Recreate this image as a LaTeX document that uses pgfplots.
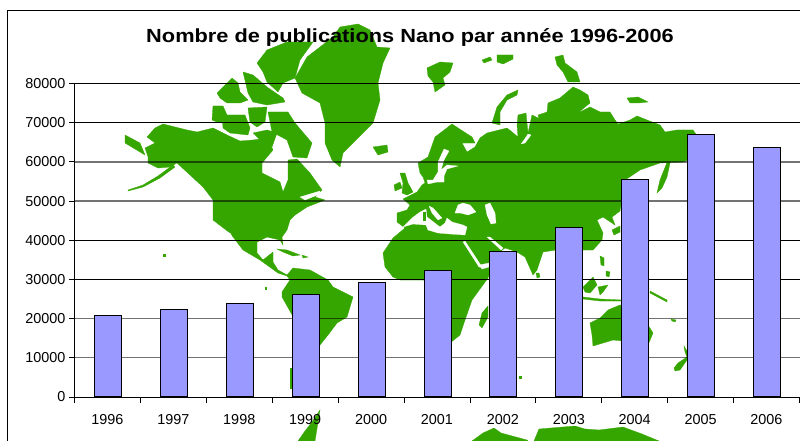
\documentclass[border=0pt]{standalone}
\usepackage{fontspec}
\setmainfont{Liberation Sans}
\usepackage{pgfplots}
\pgfplotsset{compat=1.18}
\definecolor{land}{HTML}{35A600}
\definecolor{barfill}{HTML}{9999FF}
\pgfplotsset{
  land/.style={fill=land,draw=land,line width=0.3pt,no markers},
  sea/.style={fill=white,draw=white,line width=0.2pt,no markers}
}
\pgfplotstableread{
year count
1996 20800
1997 22300
1998 23860
1999 26150
2000 29200
2001 32200
2002 37250
2003 43300
2004 55500
2005 67000
2006 63650
}\pubs
\begin{document}
\begin{tikzpicture}[x=1pt,y=1pt]
\useasboundingbox (0,0) rectangle (800pt,441pt);
\clip (0,0) rectangle (800pt,441pt);
% background map, in picture pixels
\begin{axis}[at={(0pt,0pt)},anchor=south west,scale only axis,width=800pt,height=441pt,
  xmin=0,xmax=800,ymin=0,ymax=441,y dir=reverse,hide axis]
% Americas
\addplot[land] coordinates {(147,137)(155,128)(163,124)(175,127)(187,130)(197,132)(213,128)(227,135)(240,141)(253,140)(267,138)(273,150)(262,163)(262,173)(272,178)(280,182)(283,192)(288,180)(288,160)(297,159)(310,173)(322,190)(315,197)(325,200)(307,207)(295,215)(290,220)(287,230)(282,237)(283,245)(280,240)(267,237)(257,242)(257,253)(263,260)(273,252)(273,262)(278,270)(287,275)(293,268)(310,270)(328,280)(333,287)(353,297)(347,317)(337,323)(328,335)(320,345)(318,348)(305,345)(295,320)(282,297)(282,292)(290,280)(287,276)(278,273)(260,260)(243,250)(230,233)(213,220)(213,200)(203,187)(190,175)(177,163)(170,167)(158,168)(148,163)(148,157)(145,148)(155,143)} --cycle;
\addplot[sea] coordinates {(228,233)(230,233)(238,248)(235,249)} --cycle;
\addplot[sea] coordinates {(300,197)(320,191)(320,194)(305,200)} --cycle;
\addplot[land] coordinates {(290,368)(292,368)(292,388)(290,388)} --cycle;
\addplot[land] coordinates {(125,135)(140,143)(145,155)(125,143)} --cycle;
\addplot[land] coordinates {(173,165)(175,167)(160,178)(143,187)(128,191)(128,190)(143,185)(158,176)} --cycle;
\addplot[land] coordinates {(277,249)(287,250)(300,255)(293,256)(283,252)} --cycle;
\addplot[land] coordinates {(302,255)(308,257)(303,258)} --cycle;
\addplot[land] coordinates {(163,254)(165,254)(165,256)(163,256)} --cycle;
\addplot[land] coordinates {(265,287)(266,287)(266,289)(265,289)} --cycle;
% Arctic Canada
\addplot[land] coordinates {(212,120)(213,106)(223,106)(227,115)(222,123)(217,122)} --cycle;
\addplot[land] coordinates {(222,115)(245,115)(250,128)(248,135)(230,133)(223,128)} --cycle;
\addplot[land] coordinates {(268,112)(288,112)(295,123)(312,143)(307,158)(293,157)(287,140)(272,132)} --cycle;
\addplot[land] coordinates {(248,108)(267,107)(265,122)(257,127)(250,122)} --cycle;
\addplot[land] coordinates {(253,133)(267,130)(277,133)(272,147)(260,140)} --cycle;
\addplot[land] coordinates {(217,93)(232,78)(238,83)(240,92)(248,100)(240,103)(227,103)(220,98)} --cycle;
\addplot[land] coordinates {(243,72)(253,75)(267,87)(283,98)(285,102)(267,105)(253,102)(248,93)} --cycle;
\addplot[land] coordinates {(257,63)(267,50)(287,42)(313,42)(300,60)(295,78)(283,83)(278,92)(267,82)(263,72)} --cycle;
% Greenland, Iceland
\addplot[land] coordinates {(295,78)(307,57)(333,37)(340,27)(358,24)(370,30)(377,47)(390,48)(383,63)(378,83)(380,100)(373,123)(363,133)(343,153)(340,167)(332,160)(325,143)(325,123)(320,103)(302,93)} --cycle;
\addplot[land] coordinates {(373,147)(387,145)(388,152)(378,155)} --cycle;
% Eurasia and Africa
\addplot[land] coordinates {(452,124)(458,128)(472,137)(475,143)(462,143)(467,152)(475,147)(480,138)(487,133)(507,128)(512,132)(518,137)(517,125)(518,115)(526,113)(528,133)(532,115)(542,120)(542,128)(538,115)(547,112)(548,103)(560,98)(573,87)(580,90)(588,95)(590,103)(585,107)(578,113)(590,107)(600,112)(610,112)(615,120)(618,124)(630,120)(637,116)(647,120)(660,125)(665,132)(677,130)(693,130)(700,140)(688,160)(683,162)(660,163)(640,170)(625,180)(620,211)(612,217)(615,225)(603,217)(597,220)(603,233)(602,240)(593,250)(580,250)(556,250)(543,252)(537,270)(533,275)(525,257)(517,252)(505,248)(502,250)(500,270)(489,275)(488,278)(472,300)(465,320)(460,335)(450,343)(435,345)(428,310)(424,280)(400,280)(393,277)(385,267)(383,253)(393,238)(405,228)(397,222)(397,213)(407,210)(410,205)(403,199)(417,192)(422,185)(425,183)(423,177)(420,173)(418,163)(428,157)(435,137)} --cycle;
% inner seas
\addplot[sea] coordinates {(403,227)(412,218)(420,212)(426,209)(427,217)(440,227)(445,223)(447,218)(452,222)(463,225)(467,227)(465,235)(450,234)(438,233)(428,230)(426,225)(413,224)} --cycle;
\addplot[sea] coordinates {(429,206)(433,208)(442,218)(438,220)(432,213)} --cycle;
\addplot[sea] coordinates {(455,213)(458,205)(463,203)(470,205)(476,212)(468,215)(460,213)} --cycle;
\addplot[sea] coordinates {(485,205)(490,203)(495,213)(496,223)(491,224)(487,215)} --cycle;
\addplot[sea] coordinates {(463,242)(465,241)(482,267)(479,267)} --cycle;
\addplot[sea] coordinates {(487,237)(490,237)(503,248)(501,250)} --cycle;
\addplot[sea] coordinates {(479,265)(489,263)(489,267)(482,269)} --cycle;
\addplot[sea] coordinates {(444,149)(449,151)(444,160)(441,170)(447,165)(458,166)(447,169)(444,176)(444,182)(437,182)(428,184)(427,180)(433,180)(438,172)(438,162)} --cycle;
\addplot[sea] coordinates {(521,144)(525,143)(531,135)(528,134)(524,140)} --cycle;
\addplot[land] coordinates {(423,212)(425,212)(425,220)(423,220)} --cycle;
% islands of Europe and the Arctic
\addplot[land] coordinates {(400,173)(405,173)(408,183)(413,192)(407,195)(402,193)(403,183)} --cycle;
\addplot[land] coordinates {(394,185)(400,182)(402,188)(395,191)} --cycle;
\addplot[land] coordinates {(427,68)(440,62)(453,63)(450,72)(443,78)(445,85)(435,92)(433,82)(428,76)} --cycle;
\addplot[land] coordinates {(482,60)(490,57)(492,60)(484,63)} --cycle;
\addplot[land] coordinates {(497,55)(513,55)(513,59)(503,64)(497,62)} --cycle;
\addplot[land] coordinates {(492,123)(497,107)(507,95)(518,90)(517,95)(507,100)(500,112)(500,125)} --cycle;
\addplot[land] coordinates {(555,57)(563,55)(565,63)(577,72)(580,82)(568,82)(563,72)(557,65)} --cycle;
\addplot[land] coordinates {(627,98)(638,97)(648,102)(638,103)(630,103)} --cycle;
% Asia and Oceania islands
\addplot[land] coordinates {(657,193)(660,180)(668,160)(670,163)(667,177)(662,188)} --cycle;
\addplot[land] coordinates {(612,230)(620,226)(620,232)(614,235)} --cycle;
\addplot[land] coordinates {(536,273)(539,273)(540,277)(537,278)} --cycle;
\addplot[land] coordinates {(488,306)(488,317)(482,328)(479,325)(482,313)} --cycle;
\addplot[land] coordinates {(600,256)(604,258)(604,266)(601,265)} --cycle;
\addplot[land] coordinates {(606,271)(610,272)(609,277)(606,276)} --cycle;
\addplot[land] coordinates {(583,287)(593,277)(597,285)(590,293)(585,292)} --cycle;
\addplot[land] coordinates {(598,287)(608,285)(603,292)(600,295)} --cycle;
\addplot[land] coordinates {(583,297)(600,299)(622,300)(622,301)(600,301)(583,299)} --cycle;
\addplot[land] coordinates {(650,291)(667,300)(667,302)(650,293)} --cycle;
\addplot[land] coordinates {(590,323)(600,318)(608,310)(620,305)(633,307)(648,325)(653,333)(648,345)(633,342)(613,340)(603,343)(593,346)(592,335)} --cycle;
\addplot[land] coordinates {(674,368)(678,363)(687,357)(687,360)(680,370)(675,371)} --cycle;
\addplot[land] coordinates {(684,346)(687,351)(687,357)(685,352)} --cycle;
\addplot[land] coordinates {(671,319)(676,320)(675,322)(672,321)} --cycle;
\addplot[land] coordinates {(519,376)(521,376)(521,378)(519,378)} --cycle;
% south, under the chart
\addplot[land] coordinates {(298,441)(305,431)(312,422)(320,410)(315,441)} --cycle;
\addplot[land] coordinates {(472,441)(483,433)(494,428)(501,433)(527,440)(528,441)} --cycle;
\addplot[land] coordinates {(534,441)(539,429)(563,427)(575,426)(585,429)(599,430)(623,427)(642,434)(659,441)} --cycle;
% frame
\addplot[black,line width=1pt,no markers] coordinates {(800,10.5)(7.5,10.5)(7.5,441)};
\end{axis}
% chart
\begin{axis}[at={(74.5pt,44pt)},anchor=south west,scale only axis,width=725pt,height=313.5pt,
  xmin=1995.5,xmax=2006.5,ymin=0,ymax=80000,
  axis lines*=left,axis line style={-,line width=0.9pt},
  title={\bfseries Nombre de publications Nano par année 1996-2006},
  title style={at={(0.4628,1.1287)},anchor=center,xscale=1.146,font=\fontsize{19}{19}\selectfont},
  tick align=outside,
  xtick={1996,...,2006},xticklabels={1996,1997,1998,1999,2000,2001,2002,2003,2004,2005,2006},
  minor xtick={1995.5,1996.5,...,2006.5},
  major x tick style={draw=none},
  minor tick length=6pt,major tick length=5.5pt,
  tick style={black,line width=0.8pt},
  xticklabel style={yshift=-8pt,font=\fontsize{14.4}{14.4}\selectfont},
  yticklabel style={font=\fontsize{14.4}{14.4}\selectfont,/pgf/number format/1000 sep={},/pgf/number format/assume math mode=true},
  scaled y ticks=false,
  ytick={0,30000,40000,70000,80000},
  ymajorgrids,major grid style={black,line width=0.8pt},
  extra y ticks={10000,20000,50000,60000},
  extra y tick style={ymajorgrids=true,major grid style={black,opacity=0.55,line width=1.3pt}},
  ybar,bar width=27pt,clip=false]
\addplot[fill=barfill,draw=black,line width=1pt,bar shift=0.5pt] table[x=year,y=count] {\pubs};
\end{axis}
\end{tikzpicture}
\end{document}
